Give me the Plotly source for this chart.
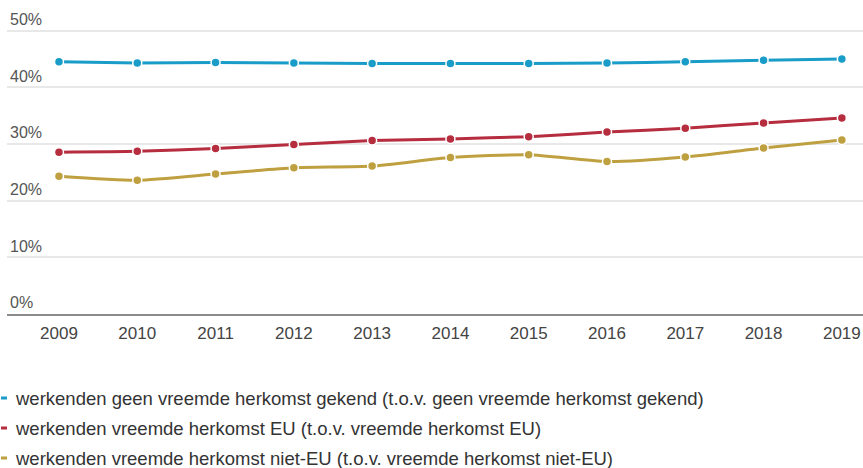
import plotly.graph_objects as go

years = [2009, 2010, 2011, 2012, 2013, 2014, 2015, 2016, 2017, 2018, 2019]
geen_vreemde = [44.5, 44.3, 44.4, 44.3, 44.2, 44.2, 44.2, 44.3, 44.5, 44.8, 45.0]
vreemde_eu = [28.55, 28.7, 29.2, 29.9, 30.6, 30.9, 31.3, 32.1, 32.8, 33.7, 34.6]
vreemde_niet_eu = [24.3, 23.6, 24.7, 25.8, 26.1, 27.6, 28.1, 26.9, 27.7, 29.3, 30.7]

names = [
    "werkenden geen vreemde herkomst gekend (t.o.v. geen vreemde herkomst gekend)",
    "werkenden vreemde herkomst EU (t.o.v. vreemde herkomst EU)",
    "werkenden vreemde herkomst niet-EU (t.o.v. vreemde herkomst niet-EU)",
]
colors = ["#1a9cc8", "#b52d3e", "#bfa040"]
series = [geen_vreemde, vreemde_eu, vreemde_niet_eu]

y_ticks = [0, 10, 20, 30, 40, 50]
y_labels = ["0%", "10%", "20%", "30%", "40%", "50%"]

W, H = 863, 468
T, B, L, R = 8, 154, 7, 0
PH = H - T - B
PW = W - L - R

fig = go.Figure()
for vals, name, col in zip(series, names, colors):
    fig.add_trace(go.Scatter(
        x=years, y=vals, name=name, mode="lines+markers",
        line=dict(color=col, width=3, shape="spline", smoothing=0.6),
        marker=dict(color=col, size=9, line=dict(color="white", width=1.5)),
        showlegend=False,
    ))

font_family = "Liberation Sans, Arial, sans-serif"

annotations = []
shapes = []
legend_y_px = [398, 428, 458]
for name, col, ypx in zip(names, colors, legend_y_px):
    yp = (H - B - ypx) / PH
    annotations.append(dict(
        text=name, xref="paper", yref="paper", x=(13 - L) / PW, y=yp,
        xanchor="left", yanchor="middle", showarrow=False,
        font=dict(size=18.5, color="#333333", family=font_family),
    ))
    shapes.append(dict(
        type="rect", xref="paper", yref="paper",
        x0=(1 - L) / PW, x1=(7 - L) / PW,
        y0=yp - 1.5 / PH, y1=yp + 1.5 / PH,
        fillcolor=col, line=dict(width=0),
    ))

fig.update_layout(
    width=W, height=H,
    margin=dict(l=L, r=R, t=T, b=B),
    paper_bgcolor="white", plot_bgcolor="white",
    font=dict(family=font_family),
    annotations=annotations, shapes=shapes,
    xaxis=dict(
        range=[2008.336, 2019.27], tickvals=years, ticktext=[str(y) for y in years],
        showgrid=False, zeroline=False, showline=True, linecolor="#8c8c8c", linewidth=2,
        ticks="", tickfont=dict(size=17, color="#444444"), ticklabelstandoff=3,
    ),
    yaxis=dict(
        range=[0, 54], tickvals=y_ticks, ticktext=y_labels,
        showgrid=True, gridcolor="#e8e8e8", gridwidth=1.5, zeroline=False,
        ticklabelposition="inside top", tickfont=dict(size=16, color="#555555"),
        ticks="",
    ),
)

fig.write_html(
    "out.html",
    config={"displayModeBar": False},
    post_script="document.body.style.margin='0';document.body.style.overflow='hidden';",
)
